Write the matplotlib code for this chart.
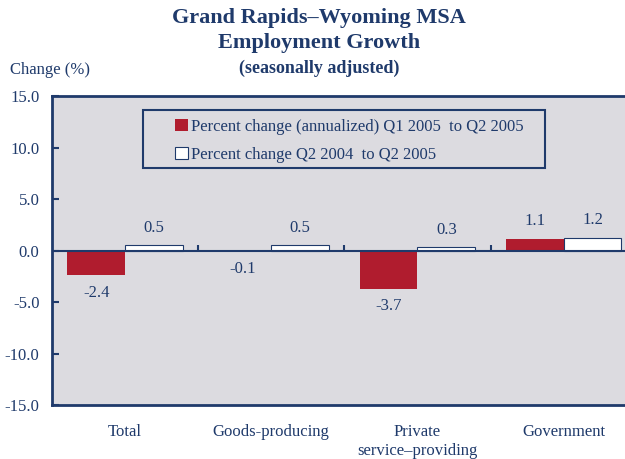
import numpy as np
import matplotlib.pyplot as plt
from matplotlib.patches import Rectangle

plt.rcParams['font.family'] = ['Liberation Serif', 'DejaVu Serif']

categories = ['Total', 'Goods-producing', 'Private\nservice\u2013providing', 'Government']
q1_q2_2005 = [-2.4, -0.1, -3.7, 1.1]
q2_2004_q2_2005 = [0.5, 0.5, 0.3, 1.2]
yticks = [15.0, 10.0, 5.0, 0.0, -5.0, -10.0, -15.0]

navy = '#1f3a6b'
red = '#b01c2e'
bg = '#dcdbe0'

fig = plt.figure(figsize=(6.25, 4.59), dpi=100)
ax = fig.add_axes([0.0832, 0.1176, 0.9168, 0.6732])
ax.set_facecolor(bg)

x = np.arange(len(categories))
w = 0.395
b1 = ax.bar(x - w/2, q1_q2_2005, w, color=red, linewidth=0,
            label='Percent change (annualized) Q1 2005  to Q2 2005', zorder=3)
b2 = ax.bar(x + w/2, q2_2004_q2_2005, w, color='white', edgecolor=navy, linewidth=0.8,
            label='Percent change Q2 2004  to Q2 2005', zorder=3)

# value labels
for bars, vals in [(b1, q1_q2_2005), (b2, q2_2004_q2_2005)]:
    for bar, v in zip(bars, vals):
        xc = bar.get_x() + bar.get_width()/2
        if v < 0:
            ax.annotate(f'{v:.1f}', (xc, v), xytext=(0, -7), textcoords='offset points',
                        ha='center', va='top', fontsize=12, color=navy)
        else:
            ax.annotate(f'{v:.1f}', (xc, v), xytext=(0, 7), textcoords='offset points',
                        ha='center', va='bottom', fontsize=12, color=navy)

ax.axhline(0, color=navy, linewidth=1.5, zorder=4)
ax.vlines(x[:-1] + 0.5, 0, 0.55, color=navy, linewidth=1.5, zorder=4)

ax.set_ylim(-15, 15)
ax.set_xlim(-0.5, 3.42)
ax.set_yticks(yticks)
ax.set_yticklabels([f'{t:.1f}' for t in yticks])
ax.tick_params(axis='y', direction='in', length=5, width=1.5, color=navy,
               labelcolor=navy, labelsize=12, pad=9)
ax.set_xticks(x)
ax.set_xticklabels(categories, fontsize=12, color=navy, va='top', linespacing=1.2)
ax.tick_params(axis='x', length=0, pad=14)

for s in ['left', 'top', 'bottom']:
    ax.spines[s].set_color(navy)
    ax.spines[s].set_linewidth(2)
ax.spines['right'].set_visible(False)

# legend box drawn separately (wide padding as in the original)
ax.add_patch(Rectangle((0.159, 0.767), 0.701, 0.188, transform=ax.transAxes,
                       facecolor='none', edgecolor=navy, linewidth=1.5, zorder=5))
leg = ax.legend(loc='upper left', bbox_to_anchor=(0.215, 0.926), fontsize=12,
                frameon=False, handlelength=0.75, handleheight=0.75, handletextpad=0.2,
                borderpad=0, labelspacing=0.7, borderaxespad=0)
for t in leg.get_texts():
    t.set_color(navy)

fig.text(0.510, 0.960, 'Grand Rapids\u2013Wyoming MSA', ha='center', va='center',
         fontsize=16, fontweight='bold', color=navy)
fig.text(0.510, 0.906, 'Employment Growth', ha='center', va='center',
         fontsize=16, fontweight='bold', color=navy)
fig.text(0.510, 0.851, '(seasonally adjusted)', ha='center', va='center',
         fontsize=13, fontweight='bold', color=navy)
fig.text(0.016, 0.847, 'Change (%)', ha='left', va='center', fontsize=12, color=navy)

fig.savefig('out.png', dpi=100)
